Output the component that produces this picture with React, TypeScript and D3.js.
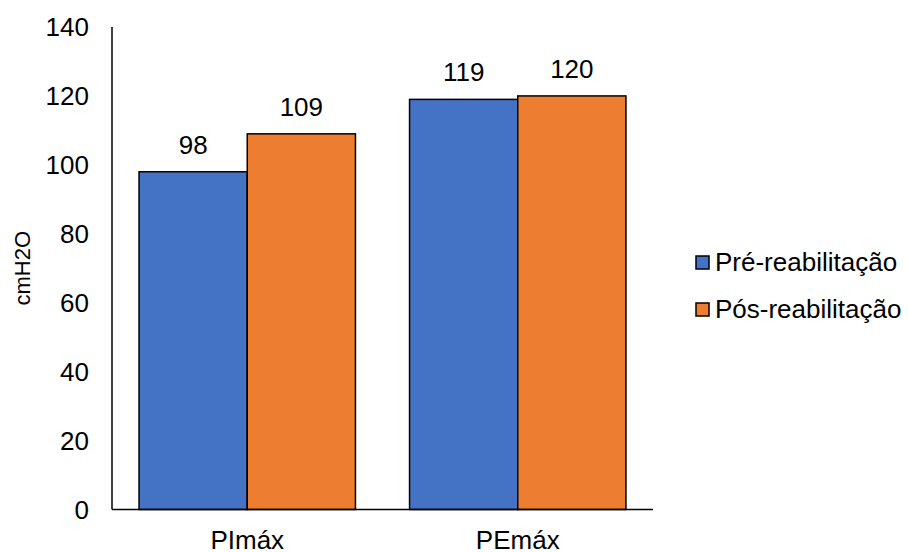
import React from "react";
import * as d3 from "d3";

const categories = ["PImáx", "PEmáx"];
const seriesNames = ["Pré-reabilitação", "Pós-reabilitação"];
const preValues = [98, 119];
const posValues = [109, 120];
const yTicks = [0, 20, 40, 60, 80, 100, 120, 140];
const seriesColors = ["#4472C4", "#ED7D31"];

const W = 908;
const H = 552;
const FONT = "Liberation Sans, Arial, sans-serif";
const FS = 26;

export default function App() {
  const x0 = d3
    .scaleBand<string>()
    .domain(categories)
    .range([112, 653])
    .paddingInner(0.2)
    .paddingOuter(0.1);
  const x1 = d3
    .scaleBand<string>()
    .domain(seriesNames)
    .range([0, x0.bandwidth()]);
  const y = d3.scaleLinear().domain([0, 140]).range([509.5, 27]);

  const series = [preValues, posValues];

  return (
    <svg
      width={W}
      height={H}
      style={{ position: "absolute", left: 0, top: 0, background: "#fff" }}
      fontFamily={FONT}
    >
      {/* bars */}
      {categories.map((c, ci) =>
        series.map((vals, si) => {
          const bx = (x0(c) ?? 0) + (x1(seriesNames[si]) ?? 0);
          const by = y(vals[ci]);
          return (
            <g key={`${c}-${si}`}>
              <rect
                x={bx}
                y={by}
                width={x1.bandwidth()}
                height={y(0) - by}
                fill={seriesColors[si]}
                stroke="#000"
                strokeWidth={1.5}
              />
              <text
                x={bx + x1.bandwidth() / 2}
                y={by - 18}
                textAnchor="middle"
                fontSize={FS}
                fill="#000"
              >
                {vals[ci]}
              </text>
            </g>
          );
        })
      )}

      {/* axes */}
      <line x1={112} x2={112} y1={y(140)} y2={y(0)} stroke="#000" strokeWidth={1.5} />
      <line x1={112} x2={653} y1={y(0)} y2={y(0)} stroke="#000" strokeWidth={1.5} />

      {yTicks.map((t) => (
        <text
          key={t}
          x={89}
          y={y(t)}
          dy="0.35em"
          textAnchor="end"
          fontSize={FS}
          fill="#000"
        >
          {t}
        </text>
      ))}

      {categories.map((c) => (
        <text
          key={c}
          x={(x0(c) ?? 0) + x0.bandwidth() / 2}
          y={549}
          textAnchor="middle"
          fontSize={FS}
          fill="#000"
        >
          {c}
        </text>
      ))}

      <text
        transform={`translate(30,${(y(0) + y(140)) / 2}) rotate(-90)`}
        textAnchor="middle"
        fontSize={22}
        fill="#000"
      >
        cmH2O
      </text>

      {/* legend */}
      {seriesNames.map((name, i) => (
        <g key={name} transform={`translate(696,${256 + i * 47})`}>
          <rect width={13} height={13} fill={seriesColors[i]} stroke="#000" strokeWidth={1.5} />
          <text x={19} y={14.5} fontSize={FS} fill="#000">
            {name}
          </text>
        </g>
      ))}
    </svg>
  );
}
